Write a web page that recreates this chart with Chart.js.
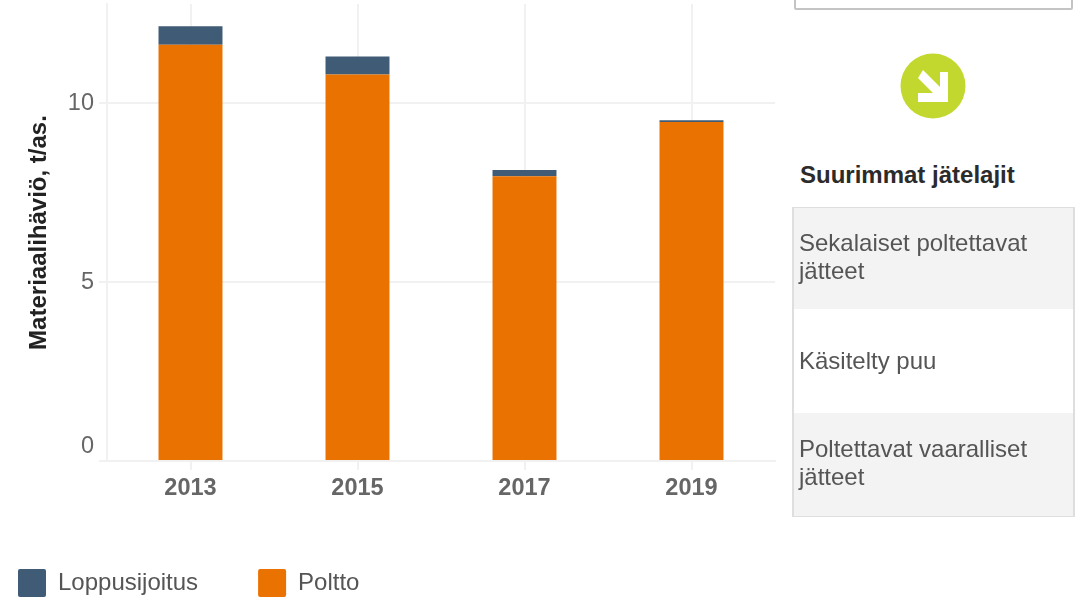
<!DOCTYPE html>
<html lang="fi">
<head>
<meta charset="utf-8">
<title>Materiaalihäviö</title>
<script src="https://cdn.jsdelivr.net/npm/chart.js@4"></script>
<style>
html,body{margin:0;padding:0;background:#fff;overflow:hidden;width:1079px;height:598px;font-family:"Liberation Sans",Arial,sans-serif}
#wrap{position:absolute;left:-42px;top:0;width:840px;height:607px}
#topbox{position:absolute;left:794px;top:-6px;width:275px;height:12px;border:2px solid #c4c4c4;border-radius:2px}
#icon{position:absolute;left:900px;top:53px;width:66px;height:66px}
#head{position:absolute;left:800px;top:161px;font-size:24px;font-weight:bold;color:#2b2b2b;line-height:28px}
#list{position:absolute;left:792px;top:207px;width:283px;height:310px;box-sizing:border-box;border:2px solid #dedede;border-top-width:1px}
.row{box-sizing:border-box;display:flex;align-items:center;padding:0 5px;font-size:24px;line-height:28px;color:#555}
.odd{background:#f3f3f3;padding-bottom:4px}
</style>
</head>
<body>
<div id="wrap"><canvas id="c" width="840" height="607"></canvas></div>
<div id="topbox"></div>
<svg id="icon" viewBox="0 0 66 66"><circle cx="33" cy="33" r="32.5" fill="#c3d82e"/><path d="M23 17 L18 25 L33 40 L18 40 L18 49 L48 49 L48 19 L40 19 L40 34 Z" fill="#fff"/></svg>
<div id="head">Suurimmat jätelajit</div>
<div id="list"></div>
<script>
const years = ['2013', '2015', '2017', '2019'];
const polttoValues = [11.63, 10.8, 7.96, 9.47];
const loppusijoitusValues = [0.52, 0.5, 0.17, 0.05];
const yTickValues = [0, 5, 10];
const wasteTypes = ['Sekalaiset poltettavat jätteet', 'Käsitelty puu', 'Poltettavat vaaralliset jätteet'];
const axisTitle = 'Materiaalihäviö, t/as.';
const rowHeights = [101, 104, 103];

const list = document.getElementById('list');
wasteTypes.forEach((t, i) => {
  const d = document.createElement('div');
  d.className = 'row' + (i % 2 === 0 ? ' odd' : '');
  d.style.height = rowHeights[i] + 'px';
  d.textContent = t;
  list.appendChild(d);
});

const font = '"Liberation Sans", Arial, sans-serif';
const gridColor = '#f1f1f1';
new Chart(document.getElementById('c'), {
  type: 'bar',
  data: {
    labels: years,
    datasets: [
      { label: 'Poltto', data: polttoValues, backgroundColor: '#ea7200', barPercentage: 0.383, categoryPercentage: 1 },
      { label: 'Loppusijoitus', data: loppusijoitusValues, backgroundColor: '#3f5b75', barPercentage: 0.383, categoryPercentage: 1 }
    ]
  },
  options: {
    responsive: false,
    animation: false,
    layout: { padding: { left: 0, right: 23, top: 4, bottom: 0 } },
    plugins: {
      tooltip: { enabled: false },
      legend: {
        position: 'bottom',
        align: 'start',
        labels: {
          boxWidth: 28, boxHeight: 28, padding: 60,
          useBorderRadius: true, borderRadius: 2,
          color: '#555',
          font: { family: font, size: 24 },
          sort: (a, b) => b.datasetIndex - a.datasetIndex
        }
      }
    },
    scales: {
      x: {
        stacked: true,
        afterFit(s) { s.height = 48; s.paddingLeft = 0; s.paddingRight = 0; },
        grid: { color: gridColor, offset: false, tickLength: 9, lineWidth: 2 },
        border: { color: gridColor, width: 2 },
        ticks: { color: '#666', padding: 4, font: { family: font, size: 23.5, weight: 'bold' }, maxRotation: 0 }
      },
      y: {
        stacked: true,
        min: 0,
        max: 12.77,
        afterFit(s) { s.width = 149; s.paddingTop = 0; s.paddingBottom = 0; },
        afterBuildTicks(s) { s.ticks = yTickValues.map(v => ({ value: v })); },
        title: { display: true, text: axisTitle, color: '#222', padding: { top: 67, bottom: 0 }, font: { family: font, size: 24, weight: 'bold' } },
        grid: { color: gridColor, tickLength: 8, lineWidth: 2 },
        border: { color: gridColor, width: 2 },
        ticks: {
          color: '#666',
          padding: 5,
          font: { family: font, size: 23.5, lineHeight: 1.25 },
          callback: v => v === 0 ? ['0', ''] : String(v)
        }
      }
    }
  }
});
</script>
</body>
</html>
